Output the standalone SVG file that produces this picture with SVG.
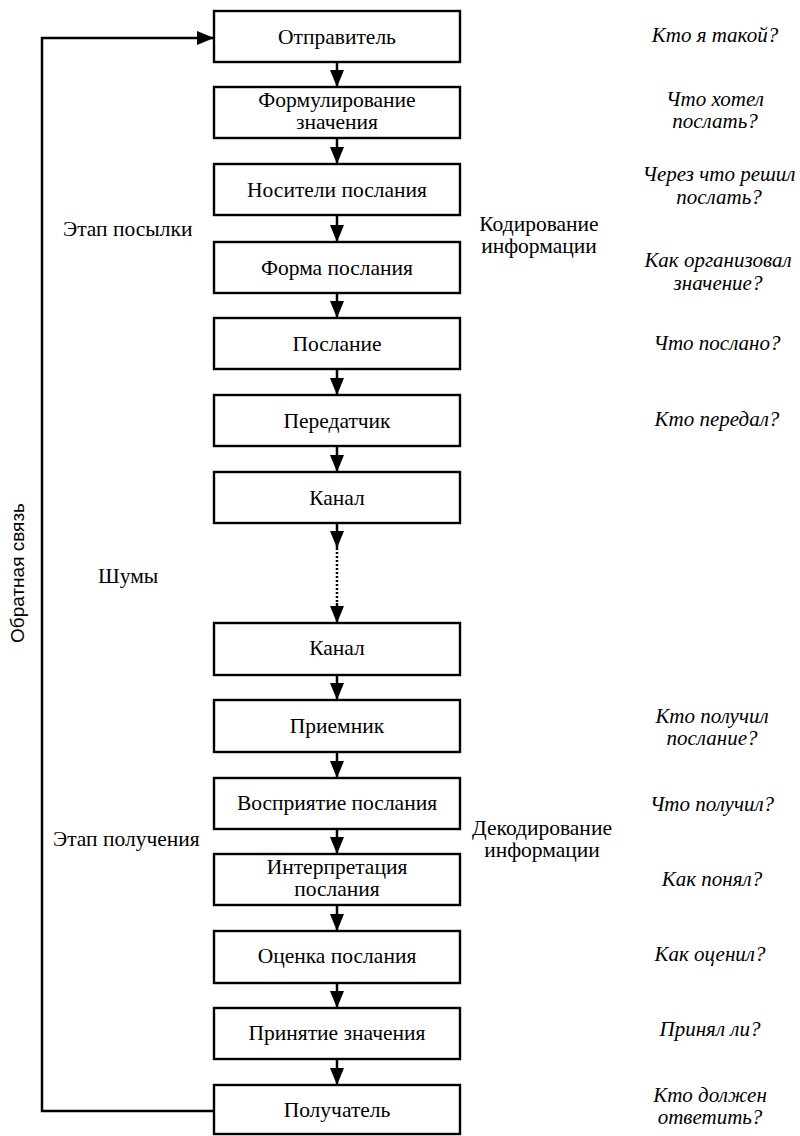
<svg xmlns="http://www.w3.org/2000/svg" width="800" height="1136" viewBox="0 0 800 1136">
<style>
.box{fill:#fff;stroke:#000;stroke-width:2.4}
.t{font-family:"Liberation Serif",serif;font-size:21.5px;fill:#000;text-anchor:middle}
.l{font-family:"Liberation Serif",serif;font-size:21.5px;fill:#000}
.q{font-family:"Liberation Serif",serif;font-size:21px;font-style:italic;fill:#000;text-anchor:middle}
.c{stroke:#000;stroke-width:2.5;fill:none}
.d{stroke:#000;stroke-width:2.5;fill:none;stroke-dasharray:2 2}
</style>
<defs>
<marker id="ah" viewBox="0 0 17 14" refX="17" refY="7" markerWidth="17" markerHeight="14" orient="auto" markerUnits="userSpaceOnUse"><path d="M0,0 L17,7 L0,14 Z" fill="#000"/></marker>
</defs>
<rect width="800" height="1136" fill="#fff"/>
<g id="connectors">
<path class="c" d="M337,62 V87" marker-end="url(#ah)"/>
<path class="c" d="M337,138 V164" marker-end="url(#ah)"/>
<path class="c" d="M337,215 V242" marker-end="url(#ah)"/>
<path class="c" d="M337,293 V318" marker-end="url(#ah)"/>
<path class="c" d="M337,369 V395" marker-end="url(#ah)"/>
<path class="c" d="M337,446 V472" marker-end="url(#ah)"/>
<path class="c" d="M337,523 V548" marker-end="url(#ah)"/>
<path class="d" d="M337,548 V604"/>
<path class="c" d="M337,603 V623" marker-end="url(#ah)"/>
<path class="c" d="M337,675 V700" marker-end="url(#ah)"/>
<path class="c" d="M337,752 V778" marker-end="url(#ah)"/>
<path class="c" d="M337,829 V854" marker-end="url(#ah)"/>
<path class="c" d="M337,905 V931" marker-end="url(#ah)"/>
<path class="c" d="M337,983 V1008" marker-end="url(#ah)"/>
<path class="c" d="M337,1059 V1085" marker-end="url(#ah)"/>
<path id="feedback" class="c" d="M214,1111 H42 V38 H214" marker-end="url(#ah)"/>
</g>
<g id="n1"><rect class="box" x="214" y="11" width="246" height="51"/><text class="t" x="337" y="44">Отправитель</text></g>
<g id="n2"><rect class="box" x="214" y="87" width="246" height="51"/><text class="t" x="337" y="107">Формулирование</text><text class="t" x="337" y="129">значения</text></g>
<g id="n3"><rect class="box" x="214" y="164" width="246" height="51"/><text class="t" x="337" y="197">Носители послания</text></g>
<g id="n4"><rect class="box" x="214" y="242" width="246" height="51"/><text class="t" x="337" y="275">Форма послания</text></g>
<g id="n5"><rect class="box" x="214" y="318" width="246" height="51"/><text class="t" x="337" y="351">Послание</text></g>
<g id="n6"><rect class="box" x="214" y="395" width="246" height="51"/><text class="t" x="337" y="428">Передатчик</text></g>
<g id="n7"><rect class="box" x="214" y="472" width="246" height="51"/><text class="t" x="337" y="505">Канал</text></g>
<g id="n8"><rect class="box" x="214" y="623" width="246" height="52"/><text class="t" x="337" y="655">Канал</text></g>
<g id="n9"><rect class="box" x="214" y="700" width="246" height="52"/><text class="t" x="337" y="733">Приемник</text></g>
<g id="n10"><rect class="box" x="214" y="778" width="246" height="51"/><text class="t" x="337" y="810">Восприятие послания</text></g>
<g id="n11"><rect class="box" x="214" y="854" width="246" height="51"/><text class="t" x="337" y="874">Интерпретация</text><text class="t" x="337" y="896">послания</text></g>
<g id="n12"><rect class="box" x="214" y="931" width="246" height="52"/><text class="t" x="337" y="963">Оценка послания</text></g>
<g id="n13"><rect class="box" x="214" y="1008" width="246" height="51"/><text class="t" x="337" y="1040">Принятие значения</text></g>
<g id="n14"><rect class="box" x="214" y="1085" width="246" height="49"/><text class="t" x="337" y="1117">Получатель</text></g>
<g id="labels">
<text class="l" x="63" y="236">Этап посылки</text>
<text class="l" x="53" y="846">Этап получения</text>
<text class="l" x="98" y="583">Шумы</text>
<text class="t" x="539" y="231">Кодирование</text>
<text class="t" x="539" y="253">информации</text>
<text class="t" x="542" y="835">Декодирование</text>
<text class="t" x="542" y="857">информации</text>
<text font-family="Liberation Sans, sans-serif" font-size="19" text-anchor="middle" transform="translate(24,573) rotate(-90)">Обратная связь</text>
</g>
<g id="questions">
<text class="q" x="715" y="42">Кто я такой?</text>
<text class="q" x="715" y="106">Что хотел</text>
<text class="q" x="715" y="128">послать?</text>
<text class="q" x="719" y="181">Через что решил</text>
<text class="q" x="719" y="204">послать?</text>
<text class="q" x="718" y="267">Как организовал</text>
<text class="q" x="718" y="290">значение?</text>
<text class="q" x="717" y="350">Что послано?</text>
<text class="q" x="717" y="426">Кто передал?</text>
<text class="q" x="712" y="723">Кто получил</text>
<text class="q" x="712" y="745">послание?</text>
<text class="q" x="712" y="811">Что получил?</text>
<text class="q" x="712" y="886">Как понял?</text>
<text class="q" x="710" y="961">Как оценил?</text>
<text class="q" x="710" y="1036">Принял ли?</text>
<text class="q" x="710" y="1102">Кто должен</text>
<text class="q" x="710" y="1124">ответить?</text>
</g>
</svg>
